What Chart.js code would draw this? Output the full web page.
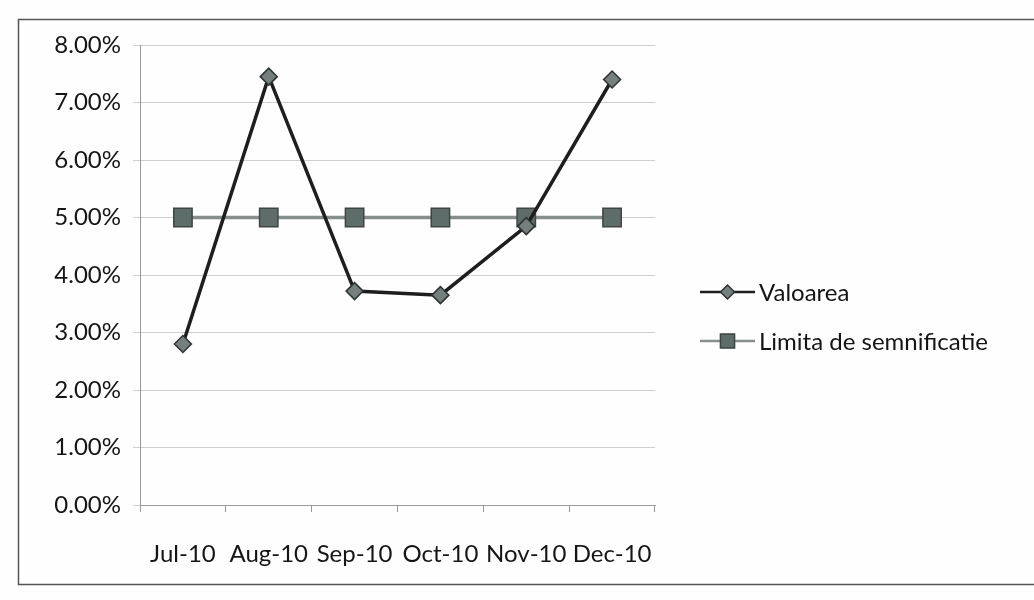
<!DOCTYPE html>
<html>
<head>
<meta charset="utf-8">
<title>Valoarea vs Limita de semnificatie</title>
<script src="https://cdn.jsdelivr.net/npm/chart.js@4/dist/chart.umd.min.js"></script>
<style>
  html, body { margin: 0; padding: 0; background: #ffffff; }
  #wrap { width: 1034px; height: 600px; position: relative; }
  canvas { display: block; }
</style>
</head>
<body>
<div id="wrap"><canvas id="c" width="1034" height="600"></canvas></div>
<script>
// Months on the category axis
const categories = ['Jul-10', 'Aug-10', 'Sep-10', 'Oct-10', 'Nov-10', 'Dec-10'];
// Measured value, in percent
const valoarea = [2.80, 7.45, 3.72, 3.65, 4.85, 7.40];
// Significance threshold, in percent
const limita = [5.00, 5.00, 5.00, 5.00, 5.00, 5.00];
// Value axis tick values, in percent
const yTicks = [0, 1, 2, 3, 4, 5, 6, 7, 8];

const FONT = 'Lato, "Noto Sans", sans-serif';
const TEXT = '#151515';

// Frame round the whole chart
const framePlugin = {
  id: 'frame',
  beforeDraw(chart) {
    const ctx = chart.ctx;
    ctx.save();
    ctx.fillStyle = '#fefefe';
    ctx.fillRect(0, 0, chart.width, chart.height);
    ctx.strokeStyle = '#555555';
    ctx.lineWidth = 1.5;
    ctx.strokeRect(18.5, 19.5, chart.width + 10, 565);
    ctx.restore();
  }
};

// Legend on the right: a short line with the series marker, then the label
const sideLegend = {
  id: 'sideLegend',
  afterDraw(chart) {
    const ctx = chart.ctx;
    const x0 = 700, x1 = 755, y0 = 292, gap = 49;
    ctx.save();
    chart.data.datasets.forEach((ds, i) => {
      const y = y0 + i * gap;
      ctx.strokeStyle = ds.borderColor;
      ctx.lineWidth = 2.5;
      ctx.beginPath();
      ctx.moveTo(x0, y);
      ctx.lineTo(x1, y);
      ctx.stroke();
      const cx = (x0 + x1) / 2;
      ctx.fillStyle = ds.pointBackgroundColor;
      ctx.strokeStyle = ds.pointBorderColor;
      ctx.lineWidth = ds.pointBorderWidth;
      Chart.helpers.drawPoint(ctx, {
        pointStyle: ds.pointStyle,
        radius: ds.legendRadius,
        rotation: 0,
        borderWidth: ds.pointBorderWidth
      }, cx, y);
      ctx.fillStyle = TEXT;
      ctx.font = '24px ' + FONT;
      ctx.textAlign = 'left';
      ctx.textBaseline = 'middle';
      ctx.fillText(ds.label, x1 + 4, y + 1);
    });
    ctx.restore();
  }
};

new Chart(document.getElementById('c'), {
  type: 'line',
  data: {
    labels: categories,
    datasets: [
      {
        label: 'Valoarea',
        data: valoarea,
        borderColor: '#1e1e1e',
        borderWidth: 3.5,
        pointStyle: 'rectRot',
        pointRadius: 8.5,
        legendRadius: 7,
        pointBackgroundColor: '#75807e',
        pointBorderColor: '#2e3332',
        pointBorderWidth: 1.5,
        tension: 0,
        order: 1
      },
      {
        label: 'Limita de semnificatie',
        data: limita,
        borderColor: '#878f8d',
        borderWidth: 3.5,
        pointStyle: 'rect',
        pointRadius: 13,
        legendRadius: 10,
        pointBackgroundColor: '#5f6d6a',
        pointBorderColor: '#3d4644',
        pointBorderWidth: 1.5,
        tension: 0,
        order: 2
      }
    ]
  },
  options: {
    responsive: false,
    animation: false,
    devicePixelRatio: 1,
    layout: { padding: { left: 0, top: 45, right: 379, bottom: 0 } },
    plugins: {
      legend: { display: false },
      tooltip: { enabled: false }
    },
    scales: {
      x: {
        type: 'category',
        offset: true,
        afterFit(scale) { scale.height = 95; },
        border: { display: true, color: '#9a9a9a', width: 1 },
        grid: {
          offset: true,
          drawOnChartArea: false,
          drawTicks: true,
          tickLength: 7,
          color: '#9a9a9a'
        },
        ticks: {
          padding: 28,
          maxRotation: 0,
          autoSkip: false,
          color: TEXT,
          font: { family: FONT, size: 24 }
        }
      },
      y: {
        min: 0,
        max: 8,
        afterFit(scale) { scale.width = 140; },
        afterBuildTicks(scale) { scale.ticks = yTicks.map(v => ({ value: v })); },
        border: { display: true, color: '#9a9a9a', width: 1 },
        grid: {
          color: '#cfcfcf',
          lineWidth: 1,
          drawTicks: true,
          tickLength: 7
        },
        ticks: {
          padding: 12,
          color: TEXT,
          font: { family: FONT, size: 24 },
          callback: v => v.toFixed(2) + '%'
        }
      }
    }
  },
  plugins: [framePlugin, sideLegend]
});
</script>
</body>
</html>
